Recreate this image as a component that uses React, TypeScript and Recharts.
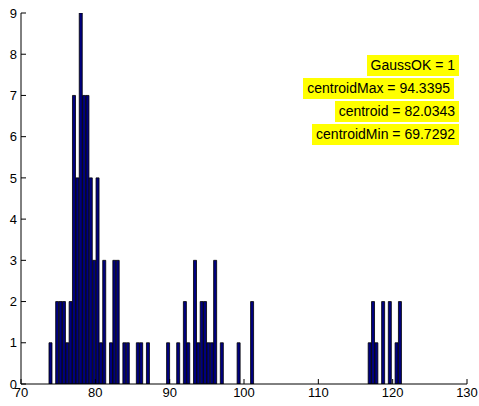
import { BarChart, Bar, XAxis, YAxis } from 'recharts';

// histogram bin centres (only non-empty bins) and their counts
const binCenters = [
  73.99, 74.89, 75.35, 75.8, 76.25, 76.7, 77.15, 77.61, 78.06, 78.51,
  78.96, 79.41, 79.87, 80.32, 80.77, 81.22, 82.13, 82.58, 83.03, 83.93,
  84.39, 85.74, 86.19, 87.1, 89.81, 91.17, 92.07, 92.52, 93.43, 93.88,
  94.33, 94.78, 95.23, 95.69, 96.14, 97.04, 99.3, 101.11, 116.93, 117.38,
  117.83, 118.74, 119.64, 120.55, 121.0,
];
const binCounts = [
  1, 2, 2, 2, 1, 2, 7, 5, 9, 7,
  7, 5, 3, 5, 1, 3, 1, 3, 3, 1,
  1, 1, 1, 1, 1, 1, 2, 1, 3, 1,
  2, 2, 1, 1, 3, 1, 1, 2, 1, 2,
  1, 2, 2, 1, 2,
];

const xTicks = [70, 80, 90, 100, 110, 120, 130];
const yTicks = [0, 1, 2, 3, 4, 5, 6, 7, 8, 9];

const annotationLabels = [
  'GaussOK = 1',
  'centroidMax = 94.3395',
  'centroid = 82.0343',
  'centroidMin = 69.7292',
];

const font = '"Liberation Sans", Arial, sans-serif';
const tickStyle = { fontSize: 13, fill: '#000', fontFamily: font };

const data = binCenters.map((x, i) => ({ x, count: binCounts[i] }));

// where each yellow label box sits
const boxPos = [
  { top: 55, right: 20 },
  { top: 78, right: 25 },
  { top: 101, right: 20 },
  { top: 124, right: 20 },
];

export default function App() {
  return (
    <div style={{ position: 'absolute', left: 0, top: 0, width: 479, height: 406, background: '#fff' }}>
      <BarChart
        width={479}
        height={406}
        data={data}
        margin={{ top: 13, right: 12, bottom: 0, left: 0 }}
        barCategoryGap={0}
      >
        <XAxis
          dataKey="x"
          type="number"
          domain={[70, 130]}
          ticks={xTicks}
          allowDataOverflow
          height={22}
          tickSize={-5}
          tickMargin={9}
          tick={tickStyle}
          stroke="#000"
          tickLine={{ stroke: '#000' }}
        />
        <XAxis
          xAxisId="top"
          orientation="top"
          type="number"
          domain={[70, 130]}
          ticks={xTicks}
          allowDataOverflow
          height={0}
          tickSize={-5}
          tick={false}
          stroke="#000"
          tickLine={{ stroke: '#000' }}
        />
        <YAxis
          type="number"
          domain={[0, 9]}
          ticks={yTicks}
          allowDataOverflow
          width={21}
          tickSize={-5}
          tickMargin={9}
          tick={tickStyle}
          stroke="#000"
          tickLine={{ stroke: '#000' }}
        />
        <YAxis
          yAxisId="right"
          orientation="right"
          type="number"
          domain={[0, 9]}
          ticks={yTicks}
          allowDataOverflow
          width={0}
          tickSize={-5}
          tick={false}
          stroke="#000"
          tickLine={{ stroke: '#000' }}
        />
        <Bar
          dataKey="count"
          fill="#00007f"
          stroke="#000"
          strokeWidth={0.8}
          barSize={3.6}
          isAnimationActive={false}
        />
      </BarChart>
      {annotationLabels.map((t, i) => (
        <div
          key={t}
          style={{
            position: 'absolute',
            top: boxPos[i].top,
            right: boxPos[i].right,
            height: 21,
            lineHeight: '21px',
            padding: '0 4px',
            background: '#ffff00',
            color: '#000',
            fontFamily: font,
            fontSize: 14,
            whiteSpace: 'nowrap',
          }}
        >
          {t}
        </div>
      ))}
    </div>
  );
}
